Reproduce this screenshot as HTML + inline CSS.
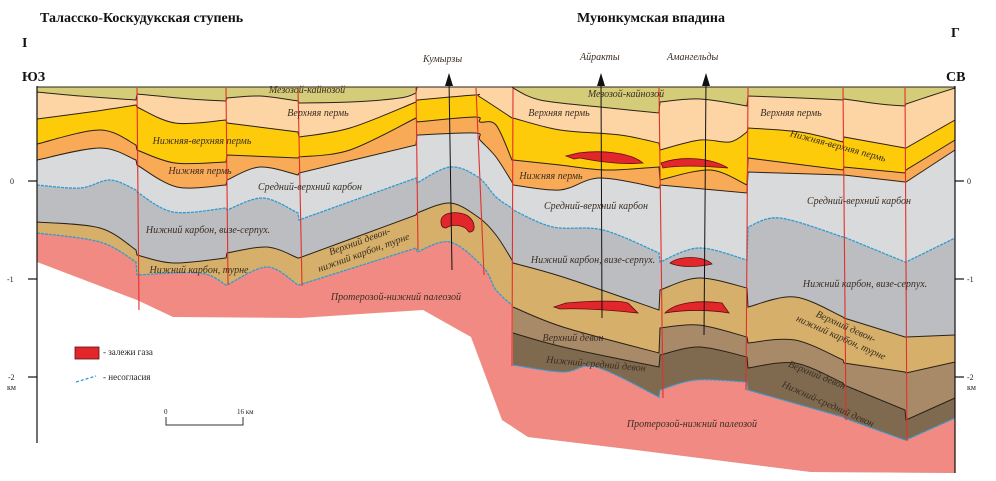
<!DOCTYPE html>
<html><head><meta charset="utf-8"><style>
html,body{margin:0;padding:0;background:#fff}
svg{display:block}
text{font-family:"Liberation Serif","Noto Serif CJK SC",serif}
.l{font-style:italic;font-size:10px;fill:#3a2d22}
.t{font-weight:bold;font-size:14px;fill:#111}
.s{font-size:8px;fill:#222}
</style></head><body>
<svg id="sv" width="996" height="481" viewBox="0 0 996 481" xmlns="http://www.w3.org/2000/svg">
<rect width="996" height="481" fill="#fff"/>
<g id="layers"></g>
<!-- gas deposits -->
<g fill="#e2262b" stroke="#5a1010" stroke-width="0.8">
<path d="M441,222 C440,212 458,210 468,216 C476,222 476,233 469,232 C464,224 452,224 446,228 C442,228 441,225 441,222Z"/>
<path d="M566,156 L578,153 C600,150 630,152 643,163 C620,165 595,161 580,158 L574,159Z"/>
<path d="M661,163 C680,156 710,157 728,168 C705,166 680,165 663,168Z"/>
<path d="M670,263 C680,255 705,256 712,264 C700,267 680,268 670,263Z"/>
<path d="M554,307 L566,303 C590,301 620,300 628,303 L638,313 C610,310 580,308 560,309Z"/>
<path d="M665,313 C675,302 700,300 722,303 L729,313 C710,310 690,309 665,313Z"/>
</g>
<!-- faults -->
<g stroke="#e2302a" stroke-width="1.1" fill="none">
<line x1="137" y1="88" x2="139" y2="310"/>
<line x1="226" y1="88" x2="228" y2="285"/>
<line x1="298" y1="88" x2="302" y2="286"/>
<line x1="416" y1="88" x2="418" y2="250"/>
<line x1="476" y1="88" x2="484" y2="275"/>
<line x1="513" y1="88" x2="512" y2="366"/>
<line x1="659" y1="88" x2="663" y2="398"/>
<line x1="748" y1="88" x2="746" y2="390"/>
<line x1="843" y1="88" x2="846" y2="420"/>
<line x1="905" y1="88" x2="907" y2="441"/>
</g>
<!-- wells -->
<g stroke="#111" stroke-width="1">
<line x1="449" y1="80" x2="452" y2="270"/>
<line x1="601" y1="80" x2="602" y2="318"/>
<line x1="706" y1="80" x2="704" y2="335"/>
</g>
<g fill="#111">
<polygon points="449,73 445,86 453,86"/>
<polygon points="601,73 597,86 605,86"/>
<polygon points="706,73 702,86 710,86"/>
</g>
<!-- axes -->
<g stroke="#111" stroke-width="1.2">
<line x1="37" y1="86" x2="37" y2="443"/>
<line x1="955" y1="86" x2="955" y2="473"/>
<line x1="28" y1="181" x2="37" y2="181"/>
<line x1="28" y1="279" x2="37" y2="279"/>
<line x1="28" y1="377" x2="37" y2="377"/>
<line x1="955" y1="181" x2="964" y2="181"/>
<line x1="955" y1="279" x2="964" y2="279"/>
<line x1="955" y1="377" x2="964" y2="377"/>
</g>
<text class="s" x="10" y="184">0</text>
<text class="s" x="7" y="282">-1</text>
<text class="s" x="8" y="380">-2</text>
<text class="s" x="7" y="390">км</text>
<text class="s" x="967" y="184">0</text>
<text class="s" x="967" y="282">-1</text>
<text class="s" x="967" y="380">-2</text>
<text class="s" x="967" y="390">км</text>
<text class="t" x="40" y="22">Таласско-Коскудукская ступень</text>
<text class="t" x="577" y="22">Муюнкумская впадина</text>
<text class="t" x="22" y="47">I</text>
<text class="t" x="951" y="37">Г</text>
<text class="t" x="22" y="81">ЮЗ</text>
<text class="t" x="946" y="81">СВ</text>
<text class="l" x="423" y="62">Кумырзы</text>
<text class="l" x="580" y="60">Айракты</text>
<text class="l" x="667" y="60">Амангельды</text>
<g text-anchor="middle">
<text x="307" y="93" class="l">Мезозой-кайнозой</text>
<text x="318" y="116" class="l">Верхняя пермь</text>
<text x="202" y="144" class="l">Нижняя-верхняя пермь</text>
<text x="200" y="174" class="l">Нижняя пермь</text>
<text x="310" y="190" class="l">Средний-верхний карбон</text>
<text x="208" y="233" class="l">Нижний карбон, визе-серпух.</text>
<text x="199" y="273" class="l">Нижний карбон, турне</text>
<text x="396" y="300" class="l">Протерозой-нижний палеозой</text>
<g transform="translate(362,248) rotate(-20)"><text x="0" y="-4" class="l">Верхний девон-</text><text x="0" y="8" class="l">нижний карбон, турне</text></g>
<text x="626" y="97" class="l">Мезозой-кайнозой</text>
<text x="559" y="116" class="l">Верхняя пермь</text>
<text x="551" y="179" class="l">Нижняя пермь</text>
<text x="596" y="209" class="l">Средний-верхний карбон</text>
<text x="593" y="263" class="l">Нижний карбон, визе-серпух.</text>
<text x="573" y="341" class="l">Верхний девон</text>
<text x="596" y="367" class="l" transform="rotate(5 596 364)">Нижний-средний девон</text>
<text x="692" y="427" class="l">Протерозой-нижний палеозой</text>
<text x="791" y="116" class="l">Верхняя пермь</text>
<text x="838" y="149" class="l" transform="rotate(15 838 146)">Нижняя-верхняя пермь</text>
<text x="859" y="204" class="l">Средний-верхний карбон</text>
<text x="865" y="287" class="l">Нижний карбон, визе-серпух.</text>
<g transform="translate(843,333) rotate(24)"><text x="0" y="-4" class="l">Верхний девон-</text><text x="0" y="8" class="l">нижний карбон, турне</text></g>
<text x="817" y="378" class="l" transform="rotate(22 817 375)">Верхний девон</text>
<text x="828" y="407" class="l" transform="rotate(24 828 404)">Нижний-средний девон</text>
</g>
<rect x="75" y="347" width="24" height="12" fill="#e2262b" stroke="#5a1010" stroke-width="0.8"/>
<text class="s" x="103" y="355" style="font-size:9px">- залежи газа</text>
<line x1="76" y1="382" x2="96" y2="376" stroke="#2f9bd3" stroke-width="1.3" stroke-dasharray="3,2"/>
<text class="s" x="103" y="380" style="font-size:9px">- несогласия</text>
<text class="s" x="164" y="414" style="font-size:7px">0</text>
<text class="s" x="237" y="414" style="font-size:7px">16 км</text>
<polyline points="166,417 166,425 243,425 243,417" fill="none" stroke="#333" stroke-width="1"/>
</svg>
<script>
function P(s){return s.trim().split(/\s+/).map(function(t){var a=t.split(',');return [+a[0],+a[1]];});}
function sm(pts,start){
  var runs=[],cur=[pts[0]];
  for(var i=1;i<pts.length;i++){
    if(pts[i][0]-pts[i-1][0]<=1.5){runs.push(cur);cur=[pts[i]];}else cur.push(pts[i]);
  }
  runs.push(cur);
  var d='';
  runs.forEach(function(r,k){
    d+=(k==0?(start||'M'):' L')+r[0][0]+','+r[0][1];
    for(var i=0;i<r.length-1;i++){
      var p0=r[i-1]||r[i],p1=r[i],p2=r[i+1],p3=r[i+2]||r[i+1];
      var c1=[p1[0]+(p2[0]-p0[0])/6,p1[1]+(p2[1]-p0[1])/6];
      var c2=[p2[0]-(p3[0]-p1[0])/6,p2[1]-(p3[1]-p1[1])/6];
      d+=' C'+c1[0].toFixed(1)+','+c1[1].toFixed(1)+' '+c2[0].toFixed(1)+','+c2[1].toFixed(1)+' '+p2[0]+','+p2[1];
    }
  });
  return d;
}
var B1=P("37,92 80,96 136,100 137,94 190,99 226,101 227,98 260,96 298,101 299,103 350,102 400,98 416,93 417,87 512,87 513,88 540,100 600,107 659,113 660,102 700,99 747,106 748,96 800,98 843,100 844,99 880,104 905,106 906,104 930,96 955,88");
var B2=P("37,119 90,112 136,105 137,107 175,123 226,120 227,123 298,132 299,137 350,128 416,102 417,100 475,95 480,97 512,118 513,118 560,130 620,135 659,143 660,150 700,140 730,142 747,132 748,128 800,132 843,142 844,137 905,148 906,148 955,120");
var B3=P("37,144 100,130 136,145 137,150 175,163 226,162 227,155 298,158 299,157 350,150 416,118 417,122 475,117 480,122 496,125 512,160 513,160 560,165 606,170 659,167 660,180 710,170 747,185 748,158 843,170 844,167 905,173 906,170 955,140");
var B4=P("37,160 100,148 136,160 137,165 177,187 226,185 227,180 260,167 298,175 299,173 416,145 417,135 475,133 480,140 496,157 512,182 513,185 560,190 600,178 659,188 660,185 747,193 748,172 843,175 844,175 905,182 906,182 955,150");
var B5=P("37,185 80,188 110,180 136,190 137,192 173,212 226,208 227,210 263,198 298,213 299,220 416,178 417,183 450,167 478,177 496,197 512,208 513,210 553,227 603,230 659,253 660,262 699,248 747,260 748,227 780,218 843,237 844,237 905,262 906,262 955,238");
var B6=P("37,222 100,228 136,250 137,255 173,263 226,258 227,253 267,247 298,258 299,258 416,215 417,213 450,203 478,217 496,235 512,260 513,263 563,277 659,310 660,290 699,278 747,288 748,307 795,297 843,317 844,318 905,337 906,337 955,335");
var B7=P("37,233 100,242 136,262 137,275 200,273 226,285 227,285 267,267 298,285 299,285 416,248 417,252 450,242 483,267 496,290 512,305");
var B7b=P("513,307 563,327 659,353 660,328 699,325 747,337 748,343 795,340 843,360 844,363 905,372 906,373 955,362");
var B8=P("513,333 563,347 659,367 660,355 699,347 747,357 748,368 795,363 843,383 844,385 905,410 906,420 955,398");
var B9=P("513,365 563,372 596,367 659,397 660,390 696,380 747,382 748,390 843,417 844,418 905,440 906,440 955,418");
var BOT="37,262 137,300 173,317 300,318 423,310 471,337 502,420 528,437 636,450 811,472 955,473";
var g=document.getElementById('layers'),NS='http://www.w3.org/2000/svg',h='';
h+='<rect x="37" y="87" width="918" height="394" fill="#d5cc79"/>';
function fill(B,c,x0){h+='<path fill="'+c+'" d="'+sm(B)+' L955,481 L'+(x0||37)+',481 Z"/>';}
fill(B1,'#fdd5a5');fill(B2,'#fecb0b');fill(B3,'#f8aa56');fill(B4,'#d9dadc');fill(B5,'#bcbdc1');fill(B6,'#d6b06a');
fill(B7b,'#a88a68',513);fill(B8,'#7f6a4f',513);
var pinkTop=sm(B7)+' L'+B9[0][0]+','+B9[0][1]+sm(B9,' L').replace(/^ L[\d.]+,[\d.]+/,'');
var botRev=BOT.split(' ').reverse().join(' L');
h+='<path fill="#f28a84" d="'+pinkTop+' L955,473 L'+botRev+' Z"/>';
h+='<path fill="#fff" d="M'+BOT.split(' ').join(' L')+' L955,481 L37,481 Z"/>';
function line(B,c,w,da){h+='<path fill="none" stroke="'+c+'" stroke-width="'+w+'"'+(da?' stroke-dasharray="'+da+'"':'')+' d="'+sm(B)+'"/>';}
h+='<line x1="37" y1="87" x2="955" y2="87" stroke="#2a2118" stroke-width="1"/>';
[B1,B2,B3,B4,B6,B7b,B8].forEach(function(B){line(B,'#2a2118',1);});
[B5,B7,B9].forEach(function(B){line(B,'#2f9bd3',1.3,'3,1');});
g.innerHTML=h;
</script>
</body></html>
